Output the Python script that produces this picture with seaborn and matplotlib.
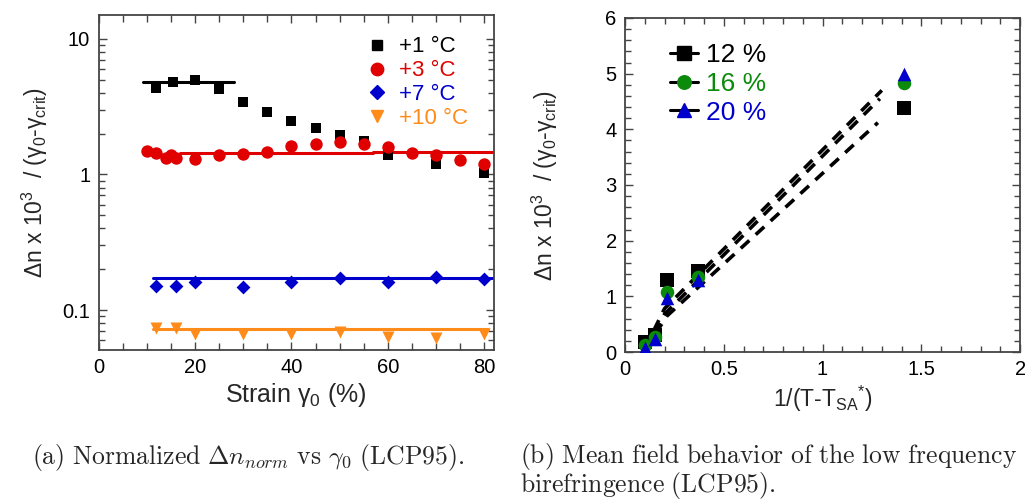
import matplotlib
matplotlib.use("Agg")
import matplotlib.pyplot as plt
import seaborn as sns
import numpy as np
from matplotlib.lines import Line2D
from matplotlib.ticker import MultipleLocator, LogLocator, NullFormatter, FixedLocator

# ---- data, panel (a): normalised birefringence vs strain ----
strain_1 = [12, 15.5, 20, 25, 30, 35, 40, 45, 50, 55, 60, 70, 80]
dn_1 = [4.33, 4.84, 4.98, 4.26, 3.41, 2.89, 2.49, 2.19, 1.96, 1.75, 1.39, 1.19, 1.03]
strain_3 = [10, 12, 14, 15, 16, 20, 25, 30, 35, 40, 45, 50, 55, 60, 65, 70, 75, 80]
dn_3 = [1.50, 1.45, 1.32, 1.38, 1.32, 1.30, 1.39, 1.41, 1.47, 1.63, 1.68, 1.72, 1.68,
        1.58, 1.45, 1.38, 1.28, 1.19]
strain_7 = [12, 16, 20, 30, 40, 50, 60, 70, 80]
dn_7 = [0.150, 0.150, 0.162, 0.149, 0.162, 0.173, 0.162, 0.176, 0.169]
strain_10 = [12, 16, 20, 30, 40, 50, 60, 70, 80]
dn_10 = [0.0733, 0.0733, 0.0665, 0.0665, 0.0665, 0.0692, 0.0628, 0.0618, 0.0665]

# plateau fits: (start strain, end strain, level)
fit_1 = [(9.3, 28.1, 4.84)]
fit_3 = [(16.9, 57.0, 1.43), (57.0, 81.6, 1.47)]
fit_7 = [(11.2, 81.8, 0.171)]
fit_10 = [(11.2, 80.8, 0.0724)]

# ---- data, panel (b): mean field behaviour ----
inv_t = [0.101, 0.150, 0.210, 0.368, 1.414]
dn_12 = [0.18, 0.30, 1.29, 1.46, 4.38]
dn_16 = [0.12, 0.27, 1.08, 1.34, 4.84]
dn_20 = [0.07, 0.24, 0.97, 1.30, 4.99]

# dashed fit lines (polyline nodes)
fitx_12 = [0.10, 0.21, 1.28]
fity_12 = [0.02, 0.64, 4.12]
fitx_16 = [0.10, 0.20, 1.29]
fity_16 = [0.02, 0.68, 4.55]
fitx_20 = [0.10, 0.20, 1.30]
fity_20 = [0.06, 0.78, 4.70]

RED = "#e00000"
BLUE = "#0000cc"
ORANGE = "#ff8c1a"
GREEN = "#0b8a0b"

sns.set_style("ticks")
plt.rcParams["font.family"] = ["Liberation Sans", "DejaVu Sans"]
plt.rcParams["mathtext.fontset"] = "custom"
plt.rcParams["mathtext.rm"] = "Liberation Sans"
plt.rcParams["mathtext.it"] = "Liberation Sans:italic"
plt.rcParams["axes.edgecolor"] = "#444444"

fig = plt.figure(figsize=(10.25, 5.01), dpi=100)
ax1 = fig.add_axes([0.0961, 0.3014, 0.3859, 0.6687])
ax2 = fig.add_axes([0.6098, 0.2974, 0.3854, 0.6667])

YLAB = "Δn x 10$^\\mathrm{3}$  / (γ$_\\mathrm{0}$-γ$_\\mathrm{crit}$)"

# ---- panel (a) ----
series_a = [
    (strain_1, dn_1, fit_1, "s", "black", 62, "+1 °C"),
    (strain_3, dn_3, fit_3, "o", RED, 80, "+3 °C"),
    (strain_7, dn_7, fit_7, "D", BLUE, 50, "+7 °C"),
    (strain_10, dn_10, fit_10, "v", ORANGE, 75, "+10 °C"),
]
handles_a = []
for xs, ys, fits, mk, col, size, lab in series_a:
    for x0, x1, lev in fits:
        sns.lineplot(x=[x0, x1], y=[lev, lev], color=col, lw=2.2, ax=ax1,
                     estimator=None, sort=False)
    sns.scatterplot(x=xs, y=ys, marker=mk, color=col, s=size, linewidth=0,
                    ax=ax1, zorder=3)
    handles_a.append(Line2D([], [], ls="none", marker=mk, color=col,
                            markersize=np.sqrt(size), label=lab))

ax1.set_yscale("log")
ax1.set_xlim(0, 82)
ax1.set_ylim(0.0507, 15)
ax1.xaxis.set_major_locator(MultipleLocator(20))
ax1.xaxis.set_minor_locator(MultipleLocator(5))
ax1.yaxis.set_major_locator(FixedLocator([0.1, 1, 10]))
ax1.yaxis.set_major_formatter(matplotlib.ticker.FixedFormatter(["0.1", "1", "10"]))
ax1.yaxis.set_minor_locator(LogLocator(base=10, subs=np.arange(2, 10)))
ax1.yaxis.set_minor_formatter(NullFormatter())
ax1.set_xlabel("Strain γ$_\\mathrm{0}$ (%)", fontsize=18, labelpad=3)
ax1.set_ylabel(YLAB, fontsize=16.5, labelpad=9)
ax1.legend(handles=handles_a, loc="upper left", frameon=False,
           fontsize=16, labelcolor=["black", RED, BLUE, ORANGE],
           handletextpad=0.5, borderaxespad=0, borderpad=0,
           labelspacing=0.13, handlelength=1.0, bbox_to_anchor=(0.676, 0.936))

# ---- panel (b) ----
series_b = [
    (dn_12, fitx_12, fity_12, "s", "black", 110, "12 %"),
    (dn_16, fitx_16, fity_16, "o", GREEN, 95, "16 %"),
    (dn_20, fitx_20, fity_20, "^", BLUE, 95, "20 %"),
]
handles_b = []
for ys, fx, fy, mk, col, size, lab in series_b:
    sns.lineplot(x=fx, y=fy, color="black", lw=2.6, ax=ax2, estimator=None,
                 sort=False, linestyle=(0, (3.2, 2.4)))
for ys, fx, fy, mk, col, size, lab in series_b:
    sns.scatterplot(x=inv_t, y=ys, marker=mk, color=col, s=size, linewidth=0,
                    ax=ax2, zorder=3)
    handles_b.append(Line2D([], [], ls="-", lw=2.2, color="black", marker=mk,
                            markerfacecolor=col, markeredgecolor=col,
                            markersize=np.sqrt(size), label=lab))

ax2.set_xlim(0, 2)
ax2.set_ylim(0, 6)
ax2.xaxis.set_major_locator(MultipleLocator(0.5))
ax2.xaxis.set_minor_locator(MultipleLocator(0.1))
ax2.yaxis.set_major_locator(MultipleLocator(1))
ax2.yaxis.set_minor_locator(MultipleLocator(0.2))
ax2.xaxis.set_major_formatter(matplotlib.ticker.FuncFormatter(lambda v, p: f"{v:g}"))
ax2.set_xlabel("1/(T-T$_\\mathrm{SA}$$^\\mathrm{*}$)", fontsize=16.5, labelpad=3)
ax2.set_ylabel(YLAB, fontsize=16.5, labelpad=33)
ax2.legend(handles=handles_b, loc="upper left", frameon=False, fontsize=19,
           labelcolor=["black", GREEN, BLUE], handletextpad=0.3,
           borderaxespad=0, borderpad=0, labelspacing=0.18, handlelength=1.06,
           bbox_to_anchor=(0.114, 0.925))

for ax in (ax1, ax2):
    ax.tick_params(which="both", direction="in", top=True, right=True,
                   labelsize=14.5, colors="#444444", labelcolor="black", pad=6)
    ax.tick_params(which="major", length=6, width=1)
    ax.tick_params(which="minor", length=4, width=1)
    for sp in ax.spines.values():
        sp.set_linewidth(1.3)
ax1.tick_params(axis="x", which="minor", length=5)

# ---- sub-captions ----
fig.text(0.031, 0.086,
         r"$\mathrm{(a)\ Normalized\ }\Delta n_{norm}\mathrm{\ vs\ }\gamma_0\mathrm{\ (LCP95).}$",
         fontsize=18.5, math_fontfamily="cm", va="center")
fig.text(0.507, 0.120,
         "$\\mathrm{(b)\\ Mean\\ field\\ behavior\\ of\\ the\\ low\\ frequency}$\n"
         "$\\mathrm{birefringence\\ (LCP95).}$",
         fontsize=18.5, math_fontfamily="cm", va="top", linespacing=0.92)

fig.savefig("out.png", dpi=100)
